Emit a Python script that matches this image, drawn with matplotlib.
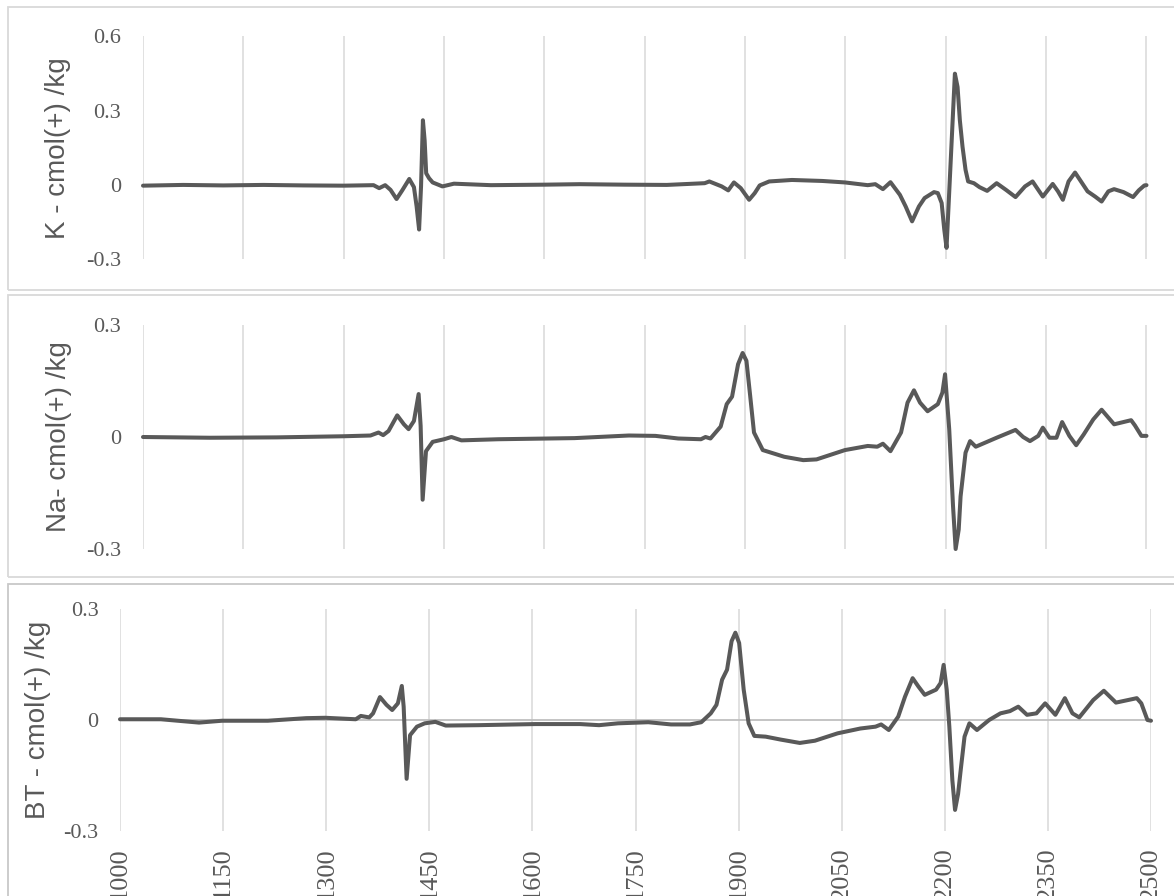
import matplotlib
matplotlib.use('Agg')
import matplotlib.pyplot as plt
from matplotlib.patches import Rectangle

W, H = 1174, 896
line_color = '#595959'
grid_color = '#d9d9d9'
text_color = '#595959'

# wavelength ticks shared by the three panels
x_ticks = [1000, 1150, 1300, 1450, 1600, 1750, 1900, 2050, 2200, 2350, 2500]

# K spectrum
k_x = [1000, 1060, 1120, 1180, 1240, 1300, 1344.6, 1353, 1362, 1370, 1379, 1387.5, 1398, 1405,
       1409, 1412.7, 1415.6, 1418.4, 1421, 1423.3, 1427.6, 1433, 1447.6, 1464.8, 1520, 1600,
       1652.7, 1720, 1783, 1839.6, 1846.5, 1865, 1874.8, 1883.3, 1893.5, 1906, 1914.4, 1921.8,
       1936, 1970, 2015.3, 2049.3, 2083.3, 2094.6, 2106, 2117.3, 2131.4, 2140, 2149.6, 2159.8,
       2168.3, 2182.4, 2188.1, 2193.8, 2197.7, 2201.1, 2213.6, 2217.6, 2221, 2225, 2229.5,
       2233.4, 2242, 2250.4, 2261.8, 2276, 2290, 2304.2, 2318.4, 2329.7, 2338.2, 2345, 2359.8,
       2367.7, 2375, 2383.5, 2393.2, 2400.6, 2411.9, 2423.2, 2432.9, 2443, 2451.5, 2465.7,
       2479.9, 2488.4, 2496.9, 2500]
k_y = [-0.002, 0.001, -0.001, 0.001, -0.001, -0.002, 0.0, -0.012, 0.0, -0.019, -0.056, -0.021,
       0.025, -0.008, -0.086, -0.179, -0.005, 0.262, 0.18, 0.048, 0.028, 0.011, -0.005, 0.006,
       0.0, 0.002, 0.004, 0.002, 0.001, 0.008, 0.015, -0.005, -0.021, 0.011, -0.012, -0.059,
       -0.032, -0.001, 0.015, 0.021, 0.017, 0.011, 0.0, 0.004, -0.016, 0.012, -0.039, -0.086,
       -0.146, -0.086, -0.052, -0.028, -0.032, -0.072, -0.179, -0.253, 0.45, 0.396, 0.262,
       0.155, 0.062, 0.015, 0.008, -0.008, -0.023, 0.008, -0.019, -0.048, -0.005, 0.015,
       -0.019, -0.046, 0.005, -0.025, -0.059, 0.015, 0.051, 0.021, -0.025, -0.046, -0.066,
       -0.025, -0.016, -0.028, -0.048, -0.021, -0.001, 0.0]

# Na spectrum
na_x = [1000, 1100, 1200, 1300, 1340, 1352, 1359, 1367, 1380, 1390, 1397, 1405, 1412, 1415,
        1418, 1423, 1433, 1450, 1461, 1476, 1531, 1645, 1726.3, 1766, 1800, 1834, 1840.8,
        1848.2, 1863.5, 1872.5, 1880.5, 1889.5, 1896.3, 1902, 1907.6, 1913.3, 1926.4, 1958.6,
        1987, 2006.8, 2049.3, 2083.3, 2097.5, 2106, 2117.3, 2133.1, 2142.8, 2152.4, 2161.5,
        2172.8, 2188.1, 2194.9, 2198.9, 2205.1, 2210.8, 2214.7, 2219.3, 2222.1, 2229.5,
        2236.3, 2244.8, 2275.9, 2304.2, 2315.6, 2325.8, 2338.2, 2345, 2355, 2365.4, 2373.9,
        2384.7, 2394.9, 2406.2, 2420.4, 2432.9, 2451.6, 2477, 2482.7, 2492.4, 2500]
na_y = [0.0, -0.002, -0.001, 0.002, 0.004, 0.012, 0.005, 0.016, 0.058, 0.034, 0.021, 0.043,
        0.115, 0.03, -0.168, -0.038, -0.013, -0.006, 0.0, -0.009, -0.006, -0.003, 0.004, 0.003,
        -0.004, -0.006, 0.0, -0.004, 0.028, 0.088, 0.108, 0.195, 0.225, 0.204, 0.11, 0.012,
        -0.035, -0.053, -0.062, -0.06, -0.035, -0.024, -0.026, -0.018, -0.038, 0.012, 0.092,
        0.125, 0.092, 0.069, 0.088, 0.119, 0.168, 0.021, -0.185, -0.3, -0.248, -0.159, -0.042,
        -0.011, -0.026, -0.002, 0.019, 0.0, -0.011, 0.003, 0.025, -0.002, -0.002, 0.04, 0.003,
        -0.022, 0.007, 0.047, 0.073, 0.034, 0.045, 0.031, 0.003, 0.003]

# BT spectrum
bt_x = [1000, 1059.5, 1115, 1148.5, 1215, 1271, 1298.7, 1343, 1350.4, 1362.6, 1368.2, 1378.2,
        1387.7, 1396, 1404.3, 1410, 1412.7, 1417, 1422, 1432, 1443.3, 1458.8, 1473.9, 1521,
        1604.6, 1669.4, 1697, 1724.5, 1768.6, 1801.7, 1829.2, 1845.7, 1859.5, 1867.8, 1876,
        1883.2, 1889.8, 1895.3, 1900.8, 1907.4, 1914.6, 1922.9, 1939.4, 1961.4, 1989, 2011,
        2044.1, 2077.1, 2099.2, 2107.4, 2118.5, 2132.2, 2142.1, 2153.2, 2161.4, 2170.8,
        2187.3, 2193.9, 2198.3, 2202.8, 2206.6, 2211, 2214.9, 2219.3, 2223.1, 2228.7, 2235.8,
        2246.8, 2264.5, 2281, 2294.8, 2306.9, 2319.6, 2333.3, 2346, 2360.9, 2374.7, 2385.7,
        2395.6, 2416, 2431.4, 2449, 2479.3, 2485.9, 2494.8, 2500]
bt_y = [0.002, 0.002, -0.007, -0.002, -0.002, 0.005, 0.006, 0.002, 0.011, 0.007, 0.018, 0.062,
        0.041, 0.027, 0.045, 0.092, 0.036, -0.159, -0.041, -0.018, -0.009, -0.005, -0.015,
        -0.014, -0.011, -0.011, -0.014, -0.009, -0.006, -0.012, -0.012, -0.006, 0.018, 0.041,
        0.109, 0.136, 0.213, 0.236, 0.208, 0.082, -0.009, -0.043, -0.045, -0.053, -0.062,
        -0.056, -0.036, -0.023, -0.018, -0.012, -0.027, 0.009, 0.063, 0.113, 0.091, 0.068,
        0.082, 0.1, 0.149, 0.082, -0.018, -0.163, -0.243, -0.2, -0.136, -0.045, -0.009, -0.027,
        0.0, 0.018, 0.024, 0.036, 0.014, 0.018, 0.045, 0.014, 0.059, 0.018, 0.007, 0.054, 0.079,
        0.047, 0.059, 0.045, 0.0, -0.002]

panels = [
    # x, y, label, yticks, left/right/top/bottom px, label x px, frame top/bottom px
    (k_x, k_y, 'K - cmol(+) /kg', [-0.3, 0, 0.3, 0.6], (143, 1146.5, 36.5, 259.5), 58, (7.5, 290)),
    (na_x, na_y, 'Na- cmol(+) /kg', [-0.3, 0, 0.3], (143, 1146.5, 325, 549), 59, (295, 577)),
    (bt_x, bt_y, 'BT - cmol(+) /kg', [-0.3, 0, 0.3], (120, 1151, 609, 831), 38, (583.5, 905)),
]

fig = plt.figure(figsize=(W / 100, H / 100), dpi=100)
fig.patch.set_facecolor('white')

for i, (xs, ys, label, yt, box, lab_x, frame) in enumerate(panels):
    last = i == len(panels) - 1
    fr = Rectangle((8 / W, 1 - frame[1] / H), 1.2, (frame[1] - frame[0]) / H,
                   transform=fig.transFigure, fill=False,
                   ec='#c8c8c8' if last else grid_color, lw=1.3, zorder=0)
    fig.patches.append(fr)

    l, r, t, b = box
    ax = fig.add_axes([l / W, 1 - b / H, (r - l) / W, (b - t) / H])
    ax.set_facecolor('none')
    ax.plot(xs, ys, color=line_color, lw=2.9, solid_joinstyle='round',
            solid_capstyle='round', zorder=3, clip_on=False)
    ax.set_xlim(1000, 2500)
    ax.set_ylim(yt[0], yt[-1])
    ax.set_xticks(x_ticks)
    ax.set_yticks(yt)
    ax.set_yticklabels(['0' if v == 0 else '%.1f' % v for v in yt])
    ax.xaxis.grid(True, color=grid_color, lw=1.1)
    ax.yaxis.grid(False)
    ax.set_axisbelow(True)
    for s in ax.spines.values():
        s.set_visible(False)
    ax.tick_params(axis='both', length=0, colors=text_color)
    ax.tick_params(axis='y', pad=16 if not last else 15.5)
    for tl in ax.get_yticklabels():
        tl.set_family('Liberation Serif')
        tl.set_fontsize(16)
    if last:
        ax.axhline(0, color='#bfbfbf', lw=1.3, zorder=1)
        ax.set_xticklabels([str(v) for v in x_ticks], rotation=90, va='top', ha='center')
        ax.tick_params(axis='x', pad=12)
        for tl in ax.get_xticklabels():
            tl.set_family('Liberation Serif')
            tl.set_fontsize(19)
    else:
        ax.set_xticklabels([])

    fig.text(lab_x / W, 1 - (t + b) / 2 / H, label, rotation=90, ha='center', va='center',
             family='Liberation Sans', fontsize=20, color=text_color)

fig.savefig('out.png', dpi=100)
